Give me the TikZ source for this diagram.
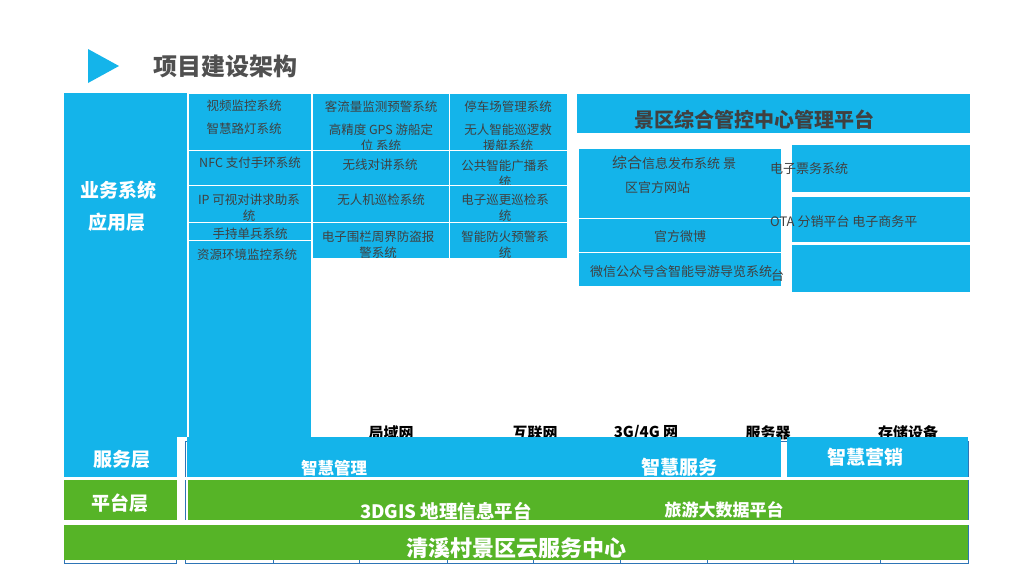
\documentclass[tikz,border=0pt]{standalone}
\usepackage{fontspec}
\setmainfont{Noto Sans CJK SC}
\definecolor{cyanB}{HTML}{14B4EA}
\definecolor{greenB}{HTML}{56B427}
\definecolor{lineB}{HTML}{2E75B6}
\definecolor{txt}{HTML}{404040}
\definecolor{ttl}{HTML}{505050}
\tikzset{
  cbox/.style={fill=cyanB, draw=white, line width=0.8pt, inner sep=0pt, outer sep=0pt, anchor=north west},
  cfill/.style={fill=cyanB, draw=none, inner sep=0pt, outer sep=0pt, anchor=north west},
  gfill/.style={fill=greenB, draw=none, inner sep=0pt, outer sep=0pt, anchor=north west},
  obox/.style={draw=lineB, line width=0.7pt, fill=white, inner sep=0pt, outer sep=0pt, anchor=north west},
  ct/.style={font=\fontsize{12.5}{16}\selectfont, text=txt, inner sep=0pt, align=center},
  rt/.style={font=\fontsize{13}{16}\selectfont, text=txt, inner sep=0pt},
  wt/.style={font=\fontsize{19}{22}\selectfont\bfseries, text=white, inner sep=0pt},
  nt/.style={font=\fontsize{15}{18}\selectfont\bfseries, text=black, inner sep=0pt}
}
\begin{document}
\begin{tikzpicture}[x=1pt,y=-1pt]
\useasboundingbox[fill=white] (0,0) rectangle (1024,576);

% title
\fill[cyanB] (88,49) -- (119,66) -- (88,83) -- cycle;
\node[font=\fontsize{24}{28}\selectfont\bfseries, text=ttl, inner sep=0pt] (title) at (225,66) {项目建设架构};

% outline grid (mostly hidden)
\node[obox, minimum width=112pt, minimum height=122pt] (g0) at (64,441) {};
\foreach \a/\b [count=\i] in {185/273,273/359,359/447,447/533,533/620,620/707,707/793,793/880,880/968}{
  \pgfmathsetmacro{\w}{\b-\a}
  \node[obox, minimum width=\w pt, minimum height=122pt] (g\i) at (\a,441) {};
}
% white gaps between layer rows
\fill[white] (62,477) rectangle (972,480);
\fill[white] (62,520) rectangle (972,525);

% network labels (partly covered)
\node[nt] (n1) at (391,433) {局域网};
\node[nt] (n2) at (535,433) {互联网};
\node[nt] (n3) at (646,433) {3G/4G 网};
\node[nt] (n4) at (768,433) {服务器};
\node[nt] (n5) at (908,433) {存储设备};

% left label boxes
\node[cfill, minimum width=113pt, minimum height=47pt] (svcL) at (64,430) {};
\node[cfill, minimum width=123pt, minimum height=344pt] (bizL) at (64,93) {};
\draw[white, line width=0.8pt] (bizL.north east) -- (bizL.south east);
\node[wt] (biz1) at (118,190) {业务系统};
\node[wt] (biz2) at (117,222) {应用层};
\node[wt] (svcT) at (122,459) {服务层};
\node[gfill, minimum width=113pt, minimum height=40pt] (platL) at (64,480) {};
\node[wt] (platT) at (120,503) {平台层};

% column 2
\node[cbox, minimum width=123pt, minimum height=57pt] (c21) at (188,93) {};
\node[ct] (t21a) at (244,106) {视频监控系统};
\node[ct] (t21b) at (244,129) {智慧路灯系统};
\node[cbox, minimum width=123pt, minimum height=35pt] (c22) at (188,150) {};
\node[ct] (t22) at (250,163) {NFC 支付手环系统};
\node[cbox, minimum width=123pt, minimum height=37pt] (c23) at (188,185) {};
\node[ct] (t23) at (249,208) {IP 可视对讲求助系\\统};
\node[cbox, minimum width=123pt, minimum height=18pt] (c24) at (188,222) {};
\node[ct] (t24) at (250,234) {手持单兵系统};
\node[cbox, minimum width=123pt, minimum height=197pt] (c25) at (188,240) {};
\node[ct] (t25) at (247,255) {资源环境监控系统};

% column 3
\node[cbox, minimum width=137pt, minimum height=57pt] (c31) at (312,93) {};
\node[ct] (t31a) at (381,107) {客流量监测预警系统};
\node[ct] (t31b) at (381,138) {高精度 GPS 游船定\\位 系统};
\node[cbox, minimum width=137pt, minimum height=35pt] (c32) at (312,150) {};
\node[ct] (t32) at (380,165) {无线对讲系统};
\node[cbox, minimum width=137pt, minimum height=37pt] (c33) at (312,185) {};
\node[ct] (t33) at (381,200) {无人机巡检系统};
\node[cbox, minimum width=137pt, minimum height=36pt] (c34) at (312,222) {};
\node[ct] (t34) at (378,245) {电子围栏周界防盗报\\警系统};

% column 4
\node[cbox, minimum width=118pt, minimum height=57pt] (c41) at (449,93) {};
\node[ct] (t41a) at (508,107) {停车场管理系统};
\node[ct] (t41b) at (508,138) {无人智能巡逻救\\援艇系统};
\node[cbox, minimum width=118pt, minimum height=35pt] (c42) at (449,150) {};
\node[ct] (t42) at (505,174) {公共智能广播系\\统};
\node[cbox, minimum width=118pt, minimum height=37pt] (c43) at (449,185) {};
\node[ct] (t43) at (505,208) {电子巡更巡检系\\统};
\node[cbox, minimum width=118pt, minimum height=36pt] (c44) at (449,222) {};
\node[ct] (t44) at (505,245) {智能防火预警系\\统};

% right group
\node[cbox, minimum width=394pt, minimum height=40pt] (ban) at (576,93) {};
\node[font=\fontsize{20}{24}\selectfont\bfseries, text=txt, inner sep=0pt] (banT) at (754,120) {景区综合管控中心管理平台};
\node[cbox, minimum width=203pt, minimum height=70pt] (r11) at (578,148) {};
\node[cbox, minimum width=203pt, minimum height=34pt] (r12) at (578,218) {};
\node[cbox, minimum width=203pt, minimum height=34pt] (r13) at (578,252) {};
\node[cbox, minimum width=179pt, minimum height=48pt] (r21) at (791,144) {};
\node[cbox, minimum width=179pt, minimum height=46pt] (r22) at (791,196) {};
\node[cbox, minimum width=179pt, minimum height=48pt] (r23) at (791,244) {};
\node[rt, anchor=west] (tr1a) at (612,163) {{\fontsize{15}{16}\selectfont 综合}信息发布系统 景};
\node[rt, anchor=west] (tr1b) at (625,188) {区官方网站};
\node[rt] (tr2) at (680,237) {官方微博};
\node[rt, anchor=west] (tr3) at (590,272) {微信公众号含智能导游导览系统};
\node[rt, anchor=west] (tr4) at (770,169) {电子票务系统};
\node[rt, anchor=west] (tr5a) at (770,222) {OTA 分销平台 电子商务平};
\node[rt, anchor=west] (tr5b) at (771,276) {台};

% service layer strips
\node[cfill, minimum width=594pt, minimum height=40pt] (svc1) at (187,437) {};
\node[cfill, minimum width=181pt, minimum height=40pt] (svc2) at (787,437) {};
\begin{scope}
  \clip (187,437) rectangle (781,477);
  \node[wt, font=\fontsize{16.5}{20}\selectfont\bfseries] (s1) at (334,468) {智慧管理};
  \node[wt] (s2) at (679,467) {智慧服务};
\end{scope}
\node[wt] (s3) at (865,457) {智慧营销};

% platform layer
\node[gfill, minimum width=780pt, minimum height=40pt] (plat) at (188,480) {};
\begin{scope}
  \clip (188,480) rectangle (968,520);
  \node[wt, font=\fontsize{18.5}{22}\selectfont\bfseries] (p1) at (446,511) {3DGIS 地理信息平台};
\end{scope}
\node[wt, font=\fontsize{17}{20}\selectfont\bfseries] (p2) at (724,510) {旅游大数据平台};

% cloud center
\node[gfill, minimum width=904pt, minimum height=35pt] (cloud) at (64,525) {};
\node[wt, font=\fontsize{22}{26}\selectfont\bfseries] (cloudT) at (516,548) {清溪村景区云服务中心};
\end{tikzpicture}
\end{document}
